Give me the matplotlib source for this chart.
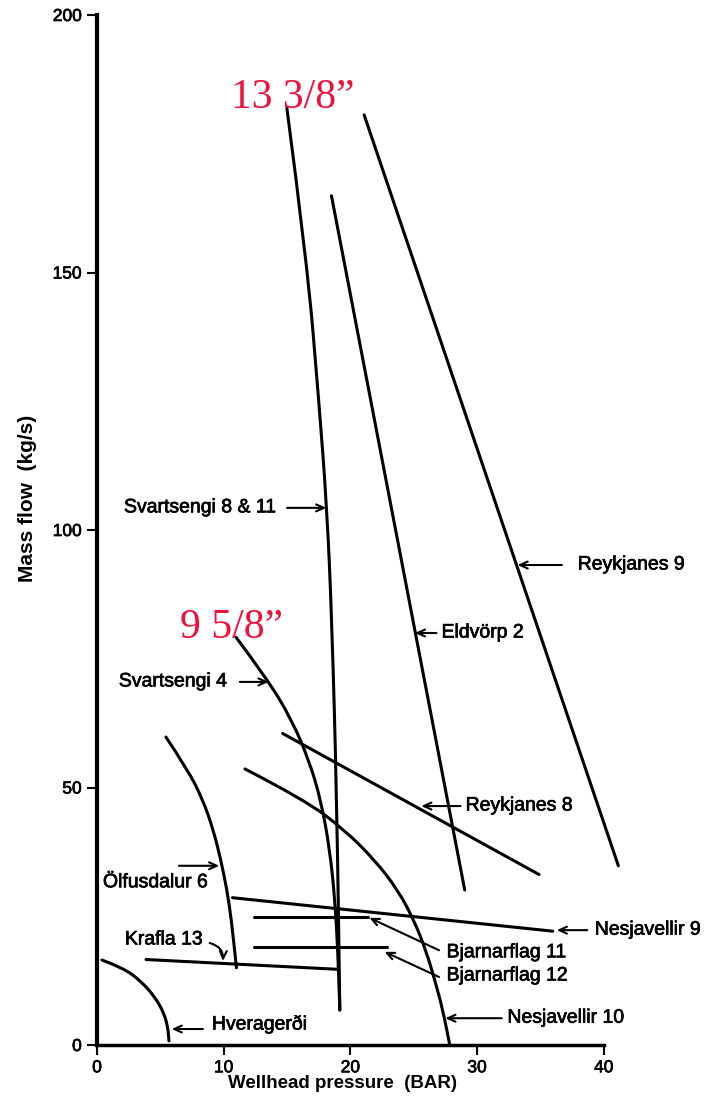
import matplotlib
matplotlib.use("Agg")
import matplotlib.pyplot as plt
import matplotlib.patheffects as pe
from matplotlib.path import Path
from matplotlib.patches import PathPatch

plt.rcParams['font.family'] = ['Liberation Sans', 'DejaVu Sans']

# wellhead pressure (bar) / mass flow (kg/s) for each well
svartsengi_8_11_p = [14.99, 16.57, 17.51, 18.15, 18.54, 18.93, 19.17]
svartsengi_8_11_q = [181.9, 152.4, 125.2, 104.3, 82.5, 47.6, 6.8]

svartsengi_4_p = [10.97, 13.49, 15.38, 16.73, 17.67, 18.38, 18.78, 19.01, 19.17]
svartsengi_4_q = [79.2, 70.9, 63.1, 55.3, 47.6, 37.9, 28.2, 18.4, 6.8]

eldvorp_2_p = [18.51, 29.03]
eldvorp_2_q = [164.9, 30.1]

reykjanes_9_p = [21.09, 41.16]
reykjanes_9_q = [180.6, 34.8]

reykjanes_8_p = [14.65, 34.9]
reykjanes_8_q = [60.5, 33.1]

nesjavellir_10_p = [11.68, 16.41, 19.57, 21.93, 23.75, 25.01, 25.96, 26.67, 27.30, 27.85]
nesjavellir_10_q = [53.6, 47.6, 41.7, 35.9, 30.1, 24.3, 18.4, 12.6, 6.8, 0.0]

nesjavellir_9_p = [10.7, 35.98]
nesjavellir_9_q = [28.6, 22.1]

olfusdalur_6_p = [5.44, 7.18, 8.36, 9.19, 9.78, 10.26, 10.61, 11.01]
olfusdalur_6_q = [59.8, 53.4, 47.6, 41.7, 35.9, 30.1, 24.3, 15.0]

bjarnarflag_11_p = [12.41, 21.4]
bjarnarflag_11_q = [24.8, 24.8]

bjarnarflag_12_p = [12.41, 22.93]
bjarnarflag_12_q = [19.1, 19.1]

krafla_13_p = [3.87, 18.99]
krafla_13_q = [16.6, 14.7]

hveragerdi_p = [0.39, 2.05, 3.47, 4.58, 5.29, 5.60, 5.68]
hveragerdi_q = [16.5, 15.0, 12.4, 9.3, 6.2, 3.3, 0.8]

x_ticks = [0, 10, 20, 30, 40]
y_ticks = [0, 50, 100, 150, 200]

# label text, text anchor, alignment, arrow tail, arrow head
labels = [
    ("Svartsengi 8 & 11", (14.2, 104.3), "right", (15.0, 104.3), (18.1, 104.3)),
    ("Svartsengi 4", (10.34, 70.5), "right", (11.28, 70.5), (13.55, 70.5)),
    ("Reykjanes 9", (37.95, 93.2), "left", (36.7, 93.2), (33.2, 93.2)),
    ("Eldvörp 2", (27.2, 80.0), "left", (26.8, 80.0), (25.1, 80.0)),
    ("Reykjanes 8", (29.1, 46.4), "left", (28.7, 46.4), (25.6, 46.4)),
    ("Ölfusdalur 6", (0.47, 31.5), "left", (6.47, 34.8), (9.65, 34.8)),
    ("Nesjavellir 9", (39.3, 22.3), "left", (38.7, 22.3), (36.3, 22.3)),
    ("Bjarnarflag 11", (27.6, 17.9), "left", (27.0, 18.4), (21.5, 24.7)),
    ("Bjarnarflag 12", (27.6, 13.4), "left", (27.0, 13.2), (22.7, 18.1)),
    ("Nesjavellir 10", (32.4, 5.2), "left", (31.95, 5.2), (27.5, 5.2)),
    ("Hveragerði", (9.07, 3.9), "left", (8.36, 3.1), (5.9, 3.1)),
]


def smooth_curve(ax, xs, ys, **kw):
    # quadratic bezier through the midpoints, so the bends come out round
    verts = [(xs[0], ys[0])]
    codes = [Path.MOVETO]
    for i in range(1, len(xs) - 1):
        verts += [(xs[i], ys[i]), ((xs[i] + xs[i + 1]) / 2, (ys[i] + ys[i + 1]) / 2)]
        codes += [Path.CURVE3, Path.CURVE3]
    verts.append((xs[-1], ys[-1]))
    codes.append(Path.LINETO)
    ax.add_patch(PathPatch(Path(verts, codes), fill=False, **kw))


fig = plt.figure(figsize=(7.19, 11.05), dpi=100)
ax = fig.add_axes([97 / 719, 60 / 1105, 532 / 719, 1030 / 1105])

curves = [
    (svartsengi_8_11_p, svartsengi_8_11_q),
    (svartsengi_4_p, svartsengi_4_q),
    (eldvorp_2_p, eldvorp_2_q),
    (reykjanes_9_p, reykjanes_9_q),
    (reykjanes_8_p, reykjanes_8_q),
    (nesjavellir_10_p, nesjavellir_10_q),
    (nesjavellir_9_p, nesjavellir_9_q),
    (olfusdalur_6_p, olfusdalur_6_q),
    (bjarnarflag_11_p, bjarnarflag_11_q),
    (bjarnarflag_12_p, bjarnarflag_12_q),
    (krafla_13_p, krafla_13_q),
    (hveragerdi_p, hveragerdi_q),
]
for p, q in curves:
    if len(p) > 2:
        smooth_curve(ax, p, q, edgecolor='black', lw=2.2, capstyle='round', clip_on=False)
    else:
        ax.plot(p, q, color='black', lw=2.2, solid_capstyle='round', clip_on=False)

bold_ink = [pe.withStroke(linewidth=0.5, foreground='black')]
arrow = dict(arrowstyle='->,head_length=0.55,head_width=0.25', color='black', lw=1.5,
             shrinkA=0, shrinkB=0)
for text, pos, ha, tail, head in labels:
    ax.text(pos[0], pos[1], text, ha=ha, va='center', fontsize=14, path_effects=bold_ink)
    ax.annotate("", xy=head, xytext=tail, arrowprops=arrow)

# Krafla 13 has a hooked arrow
ax.text(2.2, 20.4, "Krafla 13", ha='left', va='center', fontsize=14, path_effects=bold_ink)
ax.annotate("", xy=(9.94, 16.3), xytext=(8.9, 19.8),
            arrowprops=dict(arrow, connectionstyle='arc3,rad=-0.4'))

# casing sizes
ax.text(10.57, 181.9, "13 3/8\u201d", color='#ee1139', fontsize=30,
        family='Liberation Serif', ha='left', va='baseline')
ax.text(6.55, 79.0, "9 5/8\u201d", color='#ee1139', fontsize=30,
        family='Liberation Serif', ha='left', va='baseline')

ax.set_xlim(0, 42)
ax.set_ylim(0, 200)
ax.set_xticks(x_ticks)
ax.set_yticks(y_ticks)
ax.tick_params(axis='both', direction='out', length=7, width=1.5, labelsize=12.5, pad=4)
for lab in ax.get_xticklabels() + ax.get_yticklabels():
    lab.set_path_effects(bold_ink)
ax.spines['top'].set_visible(False)
ax.spines['right'].set_visible(False)
ax.spines['left'].set_linewidth(3)
ax.spines['bottom'].set_linewidth(2.5)
ax.spines['bottom'].set_bounds(0, 40)

fig.text(343 / 719, 1 - 1084 / 1105, "Wellhead pressure  (BAR)", ha='center', va='center',
         fontsize=13.5, fontweight='bold')
fig.text(28 / 719, 1 - 498 / 1105, "Mass flow  (kg/s)", ha='center', va='center',
         fontsize=15, fontweight='bold', rotation=90)

fig.savefig("out.png", dpi=100)
